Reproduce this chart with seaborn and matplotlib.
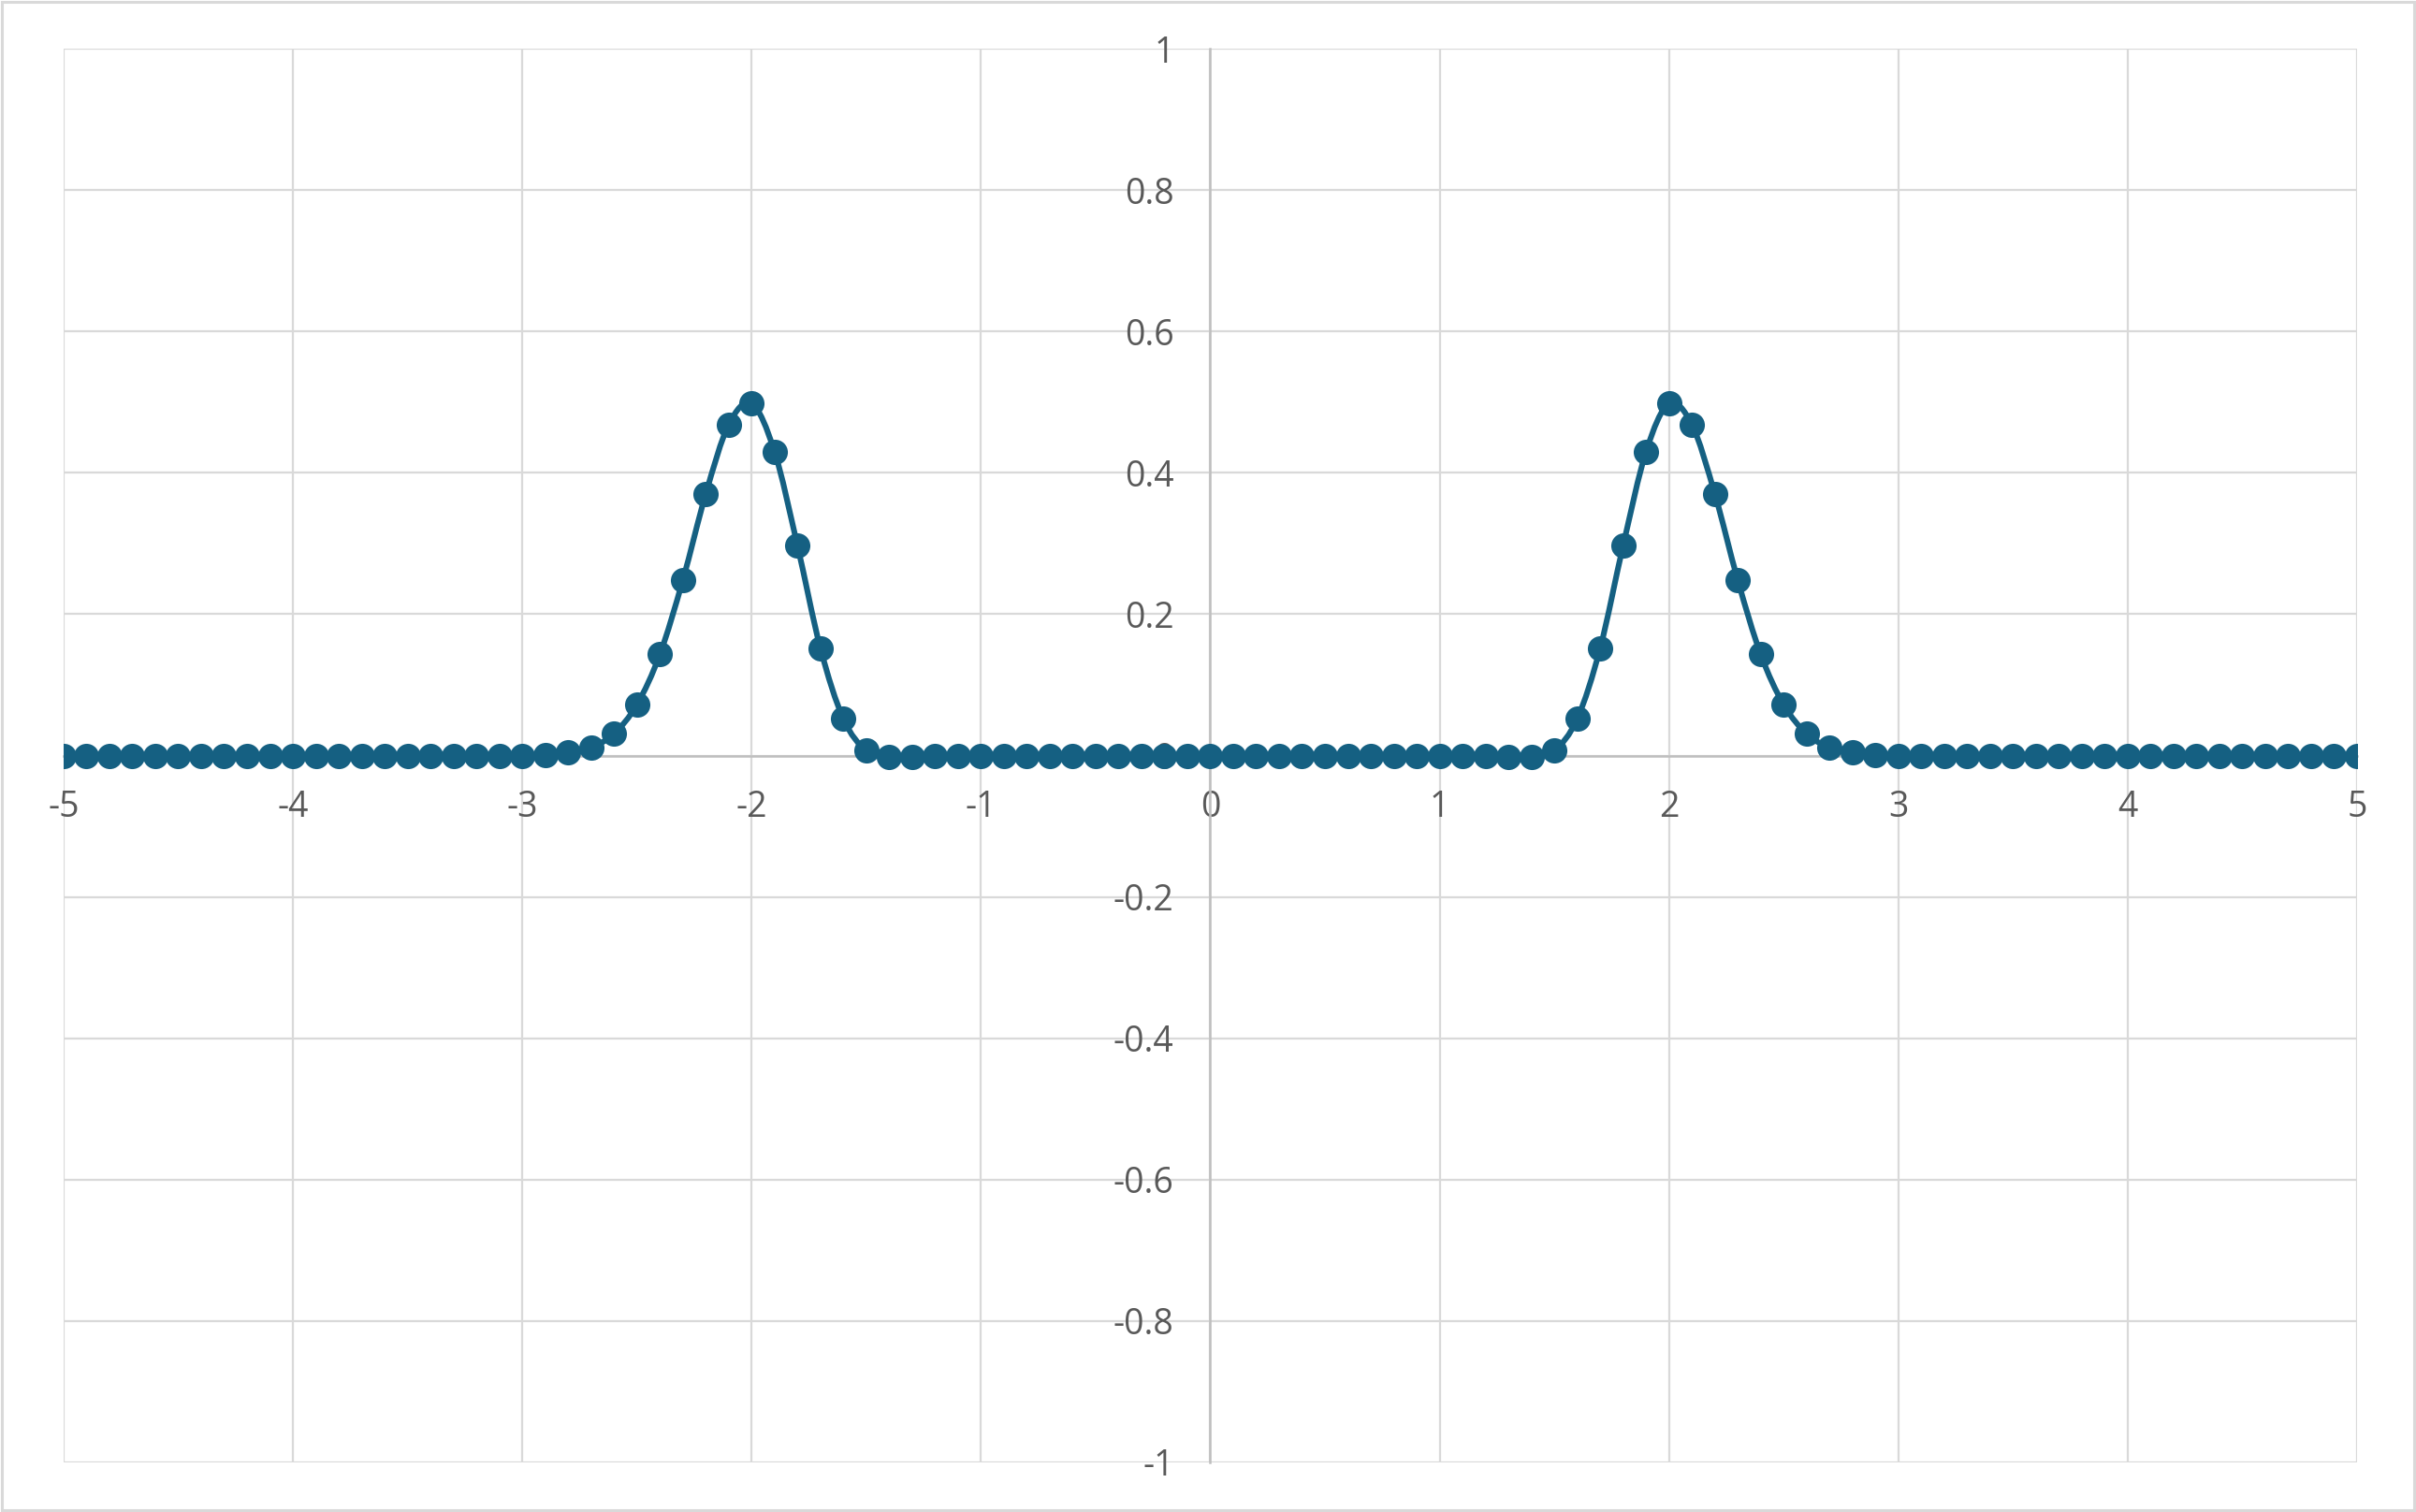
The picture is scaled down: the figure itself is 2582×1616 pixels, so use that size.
import numpy as np
import pandas as pd
import matplotlib
matplotlib.use("Agg")
import matplotlib.pyplot as plt
from matplotlib.path import Path
from matplotlib.patches import PathPatch, Rectangle
from matplotlib.ticker import FuncFormatter
import seaborn as sns

# Data (x from -5 to 5, step 0.1)
x_values = [
    -5.0, -4.9, -4.8, -4.7, -4.6, -4.5, -4.4, -4.3, -4.2, -4.1,
    -4.0, -3.9, -3.8, -3.7, -3.6, -3.5, -3.4, -3.3, -3.2, -3.1,
    -3.0, -2.9, -2.8, -2.7, -2.6, -2.5, -2.4, -2.3, -2.2, -2.1,
    -2.0, -1.9, -1.8, -1.7, -1.6, -1.5, -1.4, -1.3, -1.2, -1.1,
    -1.0, -0.9, -0.8, -0.7, -0.6, -0.5, -0.4, -0.3, -0.2, -0.1,
    0.0,
    0.1, 0.2, 0.3, 0.4, 0.5, 0.6, 0.7, 0.8, 0.9, 1.0,
    1.1, 1.2, 1.3, 1.4, 1.5, 1.6, 1.7, 1.8, 1.9, 2.0,
    2.1, 2.2, 2.3, 2.4, 2.5, 2.6, 2.7, 2.8, 2.9, 3.0,
    3.1, 3.2, 3.3, 3.4, 3.5, 3.6, 3.7, 3.8, 3.9, 4.0,
    4.1, 4.2, 4.3, 4.4, 4.5, 4.6, 4.7, 4.8, 4.9, 5.0,
]
y_values = [
    0, 0, 0, 0, 0, 0, 0, 0, 0, 0,
    0, 0, 0, 0, 0, 0, 0, 0, 0, 0,
    0, 0.001, 0.004, 0.011, 0.031, 0.072, 0.143, 0.248, 0.370, 0.468,
    0.498, 0.430, 0.297, 0.152, 0.052, 0.007, -0.002, -0.002, -0.001, 0,
    0, 0, 0, 0, 0, 0, 0, 0, 0, 0,
    0,
    0, 0, 0, 0, 0, 0, 0, 0, 0, 0,
    0, -0.001, -0.002, -0.002, 0.007, 0.052, 0.152, 0.297, 0.430, 0.498,
    0.468, 0.370, 0.248, 0.143, 0.072, 0.031, 0.011, 0.004, 0.001, 0,
    0, 0, 0, 0, 0, 0, 0, 0, 0, 0,
    0, 0, 0, 0, 0, 0, 0, 0, 0, 0,
]

x_ticks = [-5, -4, -3, -2, -1, 0, 1, 2, 3, 4, 5]
y_ticks = [-1, -0.8, -0.6, -0.4, -0.2, 0, 0.2, 0.4, 0.6, 0.8, 1]

df = pd.DataFrame({"x": x_values, "y": y_values})

LINE_COLOR = "#156082"
GRID_COLOR = "#d9d9d9"
AXIS_COLOR = "#bfbfbf"
TEXT_COLOR = "#595959"


def smooth_path(xs, ys):
    # Excel-style smoothed line: cubic Bezier segments through every point
    pts = np.column_stack([np.asarray(xs, float), np.asarray(ys, float)])
    verts = [pts[0]]
    codes = [Path.MOVETO]
    n = len(pts)
    for i in range(n - 1):
        p0 = pts[i - 1] if i > 0 else pts[i]
        p1 = pts[i]
        p2 = pts[i + 1]
        p3 = pts[i + 2] if i + 2 < n else pts[i + 1]
        verts += [p1 + (p2 - p0) / 6.0, p2 - (p3 - p1) / 6.0, p2]
        codes += [Path.CURVE4] * 3
    return Path(verts, codes)


sns.set_theme(style="white")
plt.rcParams["font.family"] = ["Open Sans", "DejaVu Sans"]
plt.rcParams["axes.unicode_minus"] = False

fig = plt.figure(figsize=(12.91, 8.08), dpi=200)
ax = fig.add_axes([0.0263, 0.0328, 0.9493, 0.9350])

# smoothed line, then markers on top
ax.add_patch(PathPatch(smooth_path(df["x"], df["y"]), facecolor="none",
                       edgecolor=LINE_COLOR, linewidth=2.2, zorder=2))
sns.scatterplot(data=df, x="x", y="y", color=LINE_COLOR, s=95,
                linewidth=0, zorder=2.2, ax=ax)

ax.set_xlim(-5, 5)
ax.set_ylim(-1, 1)
ax.set_xticks(x_ticks)
ax.set_yticks(y_ticks)
fmt = FuncFormatter(lambda v, pos: f"{round(v, 1):g}" if abs(v) > 1e-9 else "0")
ax.xaxis.set_major_formatter(fmt)
ax.yaxis.set_major_formatter(fmt)

ax.grid(True, color=GRID_COLOR, linewidth=0.8)
ax.set_axisbelow(True)
for gl in ax.get_xgridlines() + ax.get_ygridlines():
    gl.set_clip_on(False)

# axes crossing at zero, like the original
ax.spines["left"].set_position(("data", 0))
ax.spines["bottom"].set_position(("data", 0))
ax.spines["top"].set_visible(False)
ax.spines["right"].set_visible(False)
for side in ["left", "bottom"]:
    ax.spines[side].set_color(AXIS_COLOR)
    ax.spines[side].set_linewidth(0.9)
    ax.spines[side].set_zorder(1.5)

ax.tick_params(axis="both", length=0, labelsize=13.5, labelcolor=TEXT_COLOR)
ax.tick_params(axis="y", pad=14)
ax.tick_params(axis="x", pad=13)
ax.set_xlabel("")
ax.set_ylabel("")

# chart border
fig.patches.append(Rectangle((0.0008, 0.0012), 0.9984, 0.9976, transform=fig.transFigure,
                             fill=False, edgecolor=GRID_COLOR, linewidth=1.1))

fig.savefig("out.png", dpi=200, facecolor="white")
